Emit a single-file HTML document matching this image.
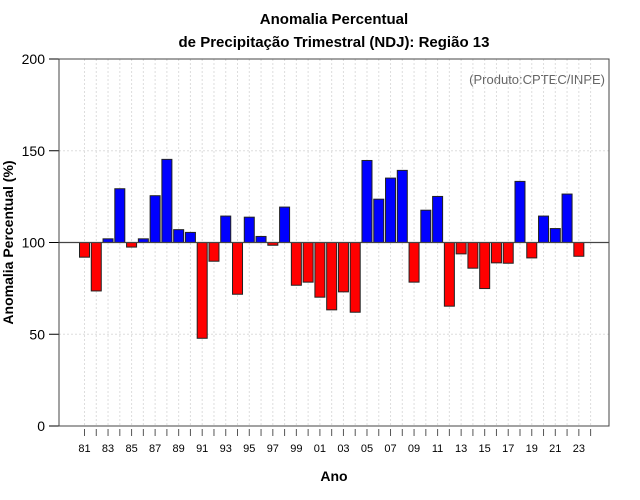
<!DOCTYPE html>
<html><head><meta charset="utf-8"><style>
html,body{margin:0;padding:0;background:#fff;}
svg{display:block;font-family:"Liberation Sans",sans-serif;}
</style></head><body>
<svg id="chart" width="640" height="500" viewBox="0 0 640 500" xmlns="http://www.w3.org/2000/svg">
<text x="334" y="24" text-anchor="middle" font-size="15" font-weight="bold">Anomalia Percentual</text>
<text x="334" y="47" text-anchor="middle" font-size="15" font-weight="bold">de Precipitação Trimestral (NDJ): Região 13</text>
<text x="605" y="84" text-anchor="end" font-size="13" fill="#666">(Produto:CPTEC/INPE)</text>
<text x="334" y="481" text-anchor="middle" font-size="14" font-weight="bold">Ano</text>
<text transform="translate(13,242.5) rotate(-90)" text-anchor="middle" font-size="14" font-weight="bold">Anomalia Percentual (%)</text>
<g id="grid"></g><g id="bars"></g><g id="axes"></g>
</svg>
<script>
const years = [1981,1982,1983,1984,1985,1986,1987,1988,1989,1990,1991,1992,1993,1994,1995,1996,1997,1998,1999,2000,2001,2002,2003,2004,2005,2006,2007,2008,2009,2010,2011,2012,2013,2014,2015,2016,2017,2018,2019,2020,2021,2022,2023];
const values = [92,73.6,102,129.3,97.5,102,125.5,145.3,107,105.5,47.8,89.8,114.4,71.8,113.8,103.3,98.5,119.3,76.7,78.4,70.2,63.3,73.1,62,144.7,123.6,135.1,139.3,78.4,117.6,125.1,65.3,93.8,86,74.9,88.9,88.7,133.3,91.6,114.4,107.6,126.4,92.5];
const yTicks = [0,50,100,150,200];
const tickYears = [1981,1982,1983,1984,1985,1986,1987,1988,1989,1990,1991,1992,1993,1994,1995,1996,1997,1998,1999,2000,2001,2002,2003,2004,2005,2006,2007,2008,2009,2010,2011,2012,2013,2014,2015,2016,2017,2018,2019,2020,2021,2022,2023,2024];
const baseline = 100;

const NS="http://www.w3.org/2000/svg";
const L=59,R=609,T=59,B=426;
const x0=84.5, step=11.77;
const xs=y=>x0+(y-1981)*step;
const ys=v=>B-(v/200)*(B-T);
function mk(tag,attrs,parent){const e=document.createElementNS(NS,tag);for(const k in attrs)e.setAttribute(k,attrs[k]);parent.appendChild(e);return e;}
const grid=document.getElementById('grid'),bars=document.getElementById('bars'),axes=document.getElementById('axes');
tickYears.forEach(y=>{
  const l=mk('line',{x1:xs(y),x2:xs(y),y1:T,y2:B,stroke:'#ddd','stroke-dasharray':'2,2','stroke-width':1},grid);
  
  
});
yTicks.forEach(v=>{
  const l=mk('line',{x1:L,x2:R,y1:ys(v),y2:ys(v),stroke:'#ddd','stroke-dasharray':'2,2','stroke-width':1},grid);
  
  
  const t=mk('line',{x1:L-10,x2:L,y1:ys(v),y2:ys(v),stroke:'#000'},axes);
  
  
  const tx=mk('text',{x:L-14,y:ys(v)+5,'text-anchor':'end','font-size':14},axes);
  tx.textContent=v;
  
  
});
years.forEach((y,i)=>{
  const v=values[i];
  const top=Math.min(ys(v),ys(baseline)),h=Math.abs(ys(v)-ys(baseline));
  const r=mk('rect',{x:xs(y)-5,y:top,width:10,height:h,fill:v>=baseline?'#0000ff':'#ff0000',stroke:'#222','stroke-width':1},bars);
  
  
});
const bl=mk('line',{x1:L,x2:R,y1:ys(baseline),y2:ys(baseline),stroke:'#444','stroke-width':1.2},axes);


const fr=mk('rect',{x:L,y:T,width:R-L,height:B-T,fill:'none',stroke:'#444','stroke-width':1},axes);


tickYears.forEach(y=>{
  const t=mk('line',{x1:xs(y),x2:xs(y),y1:429,y2:436,stroke:'#555'},axes);
  
  
  if((y-1981)%2===0){
    const tx=mk('text',{x:xs(y),y:452,'text-anchor':'middle','font-size':11},axes);
    tx.textContent=String(y%100).padStart(2,'0');
    
    
  }
});
</script>
</body></html>
